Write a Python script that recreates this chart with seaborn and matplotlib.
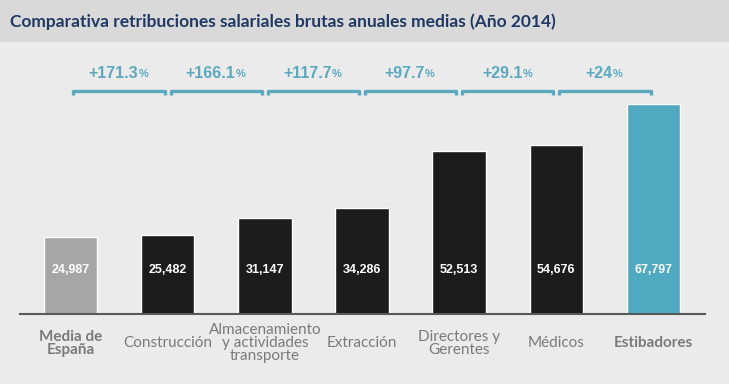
import matplotlib
matplotlib.use("Agg")
import matplotlib.pyplot as plt
import matplotlib.transforms as mtransforms
from matplotlib.patches import Rectangle
import seaborn as sns
import pandas as pd

# data
categories = ["Media de\nEspaña", "Construcción", "Almacenamiento\ny actividades\ntransporte",
              "Extracción", "Directores y\nGerentes", "Médicos", "Estibadores"]
salaries = [24987, 25482, 31147, 34286, 52513, 54676, 67797]
increments = ["+171.3", "+166.1", "+117.7", "+97.7", "+29.1", "+24"]
bar_colors = ["#a6a6a6", "#1c1c1c", "#1c1c1c", "#1c1c1c", "#1c1c1c", "#1c1c1c", "#4fa9c0"]

BG = "#ebebeb"
TEAL = "#5aa9bf"

sns.set_theme(style="white")
plt.rcParams["font.family"] = ["Lato", "DejaVu Sans"]

df = pd.DataFrame({"cat": categories, "salary": salaries})

fig = plt.figure(figsize=(7.29, 3.84), dpi=100, facecolor=BG)
ax = fig.add_axes([20 / 729, 70 / 384, 685 / 729, 272 / 384])
ax.set_facecolor(BG)

sns.barplot(data=df, x="cat", y="salary", hue="cat", palette=bar_colors,
            width=0.55, legend=False, saturation=1, ax=ax)

ax.set_xlim(-0.52, 6.53)
ax.set_ylim(0, 67797 * 272 / 210)
ax.set_xlabel("")
ax.set_ylabel("")
ax.set_yticks([])
for s in ["top", "left", "right"]:
    ax.spines[s].set_visible(False)
ax.spines["bottom"].set_color("#595959")
ax.spines["bottom"].set_linewidth(1.5)

ax.tick_params(axis="x", length=0, pad=21, labelsize=11, labelcolor="#7a7a7a")
for i, lab in enumerate(ax.get_xticklabels()):
    lab.set_verticalalignment("center")
    lab.set_linespacing(0.9)
    if i in (0, 6):
        lab.set_fontweight("bold")

trans = mtransforms.blended_transform_factory(ax.transData, ax.transAxes)

# values inside the bars
for i, v in enumerate(salaries):
    ax.text(i, 0.162, f"{v:,}", transform=trans, ha="center", va="center",
            color="white", fontsize=9, fontweight="bold", family="Liberation Sans")

# brackets with increments
for i, inc in enumerate(increments):
    x0, x1 = i + 0.03, i + 0.97
    ax.plot([x0, x0, x1, x1], [0.805, 0.82, 0.82, 0.805], transform=trans,
            color=TEAL, lw=2.4, solid_capstyle="butt", clip_on=False)
    t = ax.annotate(inc, xy=((x0 + x1) / 2, 0.885), xycoords=trans,
                    xytext=(-4, 0), textcoords="offset points",
                    ha="center", va="center", color=TEAL, fontsize=11.5,
                    fontweight="bold", family="Liberation Sans")
    ax.annotate("%", xy=(1, 0.12), xycoords=t, ha="left", va="bottom",
                color=TEAL, fontsize=8, fontweight="bold", family="Liberation Sans")

# title band
fig.patches.append(Rectangle((0, 1 - 42 / 384), 1, 42 / 384, transform=fig.transFigure,
                             facecolor="#d9d9d9", edgecolor="none", zorder=0))
fig.text(10 / 729, 1 - 22 / 384, "Comparativa retribuciones salariales brutas anuales medias (Año 2014)",
         ha="left", va="center", fontsize=12.5, fontweight="bold", color="#1f3864")

fig.savefig("out.png", dpi=100, facecolor=BG)
